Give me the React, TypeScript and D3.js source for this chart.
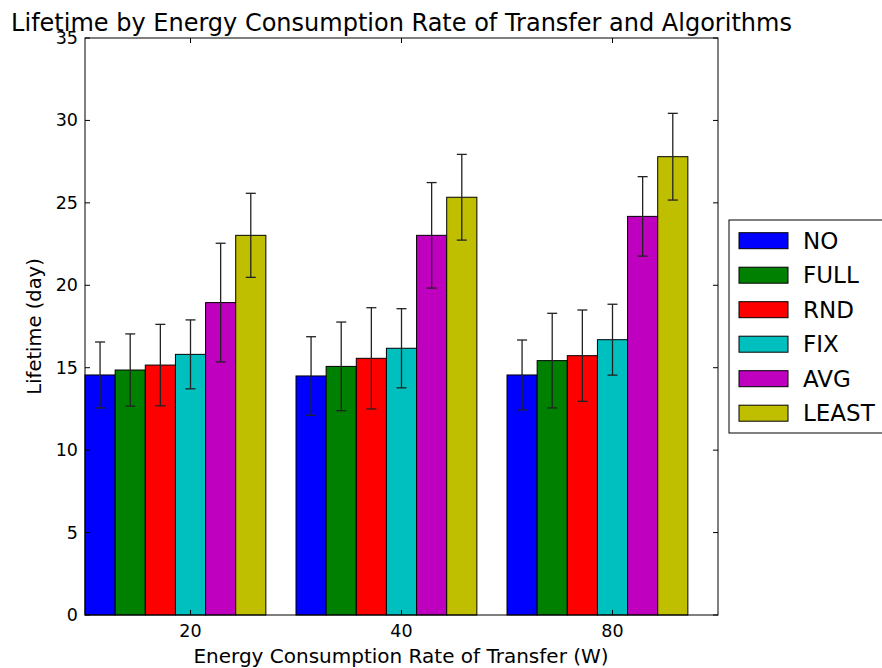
import React from "react";
import * as d3 from "d3";

const rates = ["20", "40", "80"];
const algorithms = ["NO", "FULL", "RND", "FIX", "AVG", "LEAST"];
const colors = ["#0000ff", "#008000", "#ff0000", "#00bfbf", "#bf00bf", "#bfbf00"];

// lifetime (day) per algorithm, one value per rate
const means: number[][] = [
  [14.56, 14.5, 14.56],
  [14.86, 15.08, 15.43],
  [15.16, 15.57, 15.73],
  [15.81, 16.18, 16.7],
  [18.95, 23.03, 24.18],
  [23.03, 25.34, 27.8],
];
const errors: number[][] = [
  [2.0, 2.38, 2.12],
  [2.19, 2.69, 2.87],
  [2.47, 3.07, 2.77],
  [2.09, 2.4, 2.15],
  [3.6, 3.2, 2.41],
  [2.55, 2.6, 2.63],
];
const yTicks = [0, 5, 10, 15, 20, 25, 30, 35];

const font = "'DejaVu Sans', sans-serif";

const App: React.FC = () => {
  const width = 882;
  const height = 668;
  const margin = { top: 38, right: 164, bottom: 53, left: 85 };
  const slots = algorithms.length + 1;

  const x = d3
    .scaleLinear()
    .domain([0, rates.length * slots])
    .range([margin.left, width - margin.right]);

  const y = d3
    .scaleLinear()
    .domain([0, 35])
    .range([height - margin.bottom, margin.top]);

  const bw = x(1) - x(0);
  const x0 = margin.left;
  const x1 = width - margin.right;
  const y0 = height - margin.bottom;
  const y1 = margin.top;

  return (
    <svg width={width} height={height} style={{ position: "absolute", left: 0, top: 0 }}>
      <rect x={0} y={0} width={width} height={height} fill="white" />

      {/* Bars */}
      {algorithms.map((alg, k) =>
        rates.map((r, g) => {
          const left = x(g * slots + k);
          return (
            <rect
              key={alg + r}
              x={left}
              y={y(means[k][g])}
              width={bw}
              height={y(0) - y(means[k][g])}
              fill={colors[k]}
              stroke="black"
              strokeWidth={1}
            />
          );
        })
      )}

      {/* Error bars */}
      {algorithms.map((alg, k) =>
        rates.map((r, g) => {
          const cx = x(g * slots + k + 0.5);
          const hi = y(means[k][g] + errors[k][g]);
          const lo = y(means[k][g] - errors[k][g]);
          return (
            <g key={"e" + alg + r} stroke="#222" strokeWidth={1.3}>
              <line x1={cx} x2={cx} y1={hi} y2={lo} />
              <line x1={cx - 5} x2={cx + 5} y1={hi} y2={hi} />
              <line x1={cx - 5} x2={cx + 5} y1={lo} y2={lo} />
            </g>
          );
        })
      )}

      {/* Frame */}
      <rect x={x0} y={y1} width={x1 - x0} height={y0 - y1} fill="none" stroke="black" strokeWidth={1} />

      {/* Y ticks */}
      {yTicks.map((t) => (
        <g key={"y" + t}>
          <line x1={x0} x2={x0 + 5} y1={y(t)} y2={y(t)} stroke="black" />
          <line x1={x1} x2={x1 - 5} y1={y(t)} y2={y(t)} stroke="black" />
          <text
            x={x0 - 7}
            y={y(t)}
            textAnchor="end"
            dominantBaseline="central"
            fontSize={17.5}
            fontFamily={font}
          >
            {t}
          </text>
        </g>
      ))}

      {/* X ticks */}
      {rates.map((r, g) => {
        const tx = x(g * slots + 3.5);
        return (
          <g key={"x" + r}>
            <line x1={tx} x2={tx} y1={y0} y2={y0 - 5} stroke="black" />
            <line x1={tx} x2={tx} y1={y1} y2={y1 + 5} stroke="black" />
            <text x={tx} y={637} textAnchor="middle" fontSize={17.5} fontFamily={font}>
              {r}
            </text>
          </g>
        );
      })}

      {/* Axis labels and title */}
      <text x={401} y={663} textAnchor="middle" fontSize={20} fontFamily={font}>
        Energy Consumption Rate of Transfer (W)
      </text>
      <text
        transform={`translate(41, ${(y0 + y1) / 2}) rotate(-90)`}
        textAnchor="middle"
        fontSize={19.5}
        fontFamily={font}
      >
        Lifetime (day)
      </text>
      <text x={401.5} y={31} textAnchor="middle" fontSize={24} fontFamily={font}>
        Lifetime by Energy Consumption Rate of Transfer and Algorithms
      </text>

      {/* Legend */}
      <g>
        <rect x={729} y={220} width={170} height={213} fill="white" stroke="black" strokeWidth={1} />
        {algorithms.map((alg, k) => {
          const ry = 240.7 + k * 34.5;
          return (
            <g key={"l" + alg}>
              <rect x={739} y={ry - 8} width={49} height={16} fill={colors[k]} stroke="black" strokeWidth={1} />
              <text x={803} y={ry} dominantBaseline="central" fontSize={23} fontFamily={font}>
                {alg}
              </text>
            </g>
          );
        })}
      </g>
    </svg>
  );
};

export default App;
